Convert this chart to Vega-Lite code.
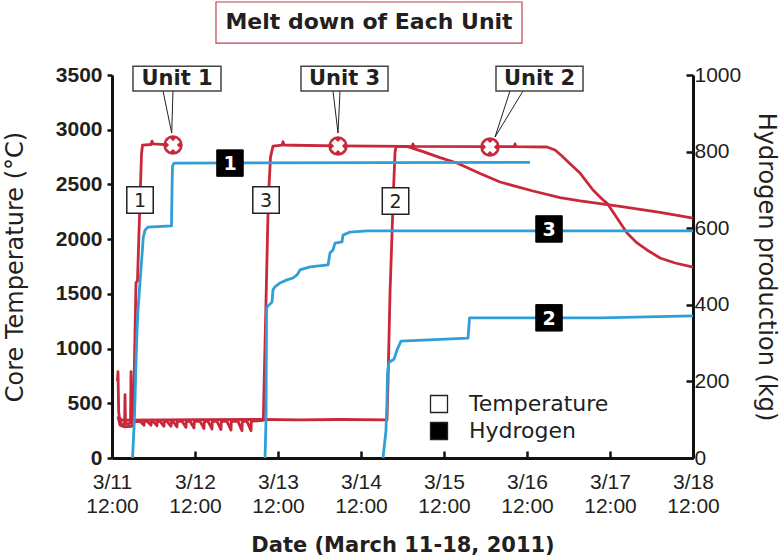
{
  "$schema": "https://vega.github.io/schema/vega-lite/v6.json",
  "width": 581,
  "height": 383,
  "autosize": {"type": "none"},
  "padding": {"left": 112, "top": 75, "right": 88, "bottom": 100},
  "background": "white",
  "config": {
    "view": {"stroke": null},
    "axis": {"grid": false, "domainColor": "#111111", "domainWidth": 3, "tickColor": "#111111", "tickWidth": 2.5, "labelColor": "#231f20", "titleColor": "#231f20"}
  },
  "datasets": {
    "temp": [
      {"series": "Unit 1", "time": "2011-03-11T13:35", "value": 700},
      {"series": "Unit 1", "time": "2011-03-11T13:44", "value": 790},
      {"series": "Unit 1", "time": "2011-03-11T13:56", "value": 420},
      {"series": "Unit 1", "time": "2011-03-11T14:19", "value": 330},
      {"series": "Unit 1", "time": "2011-03-11T15:11", "value": 295},
      {"series": "Unit 1", "time": "2011-03-11T15:38", "value": 300},
      {"series": "Unit 1", "time": "2011-03-11T15:46", "value": 580},
      {"series": "Unit 1", "time": "2011-03-11T15:54", "value": 320},
      {"series": "Unit 1", "time": "2011-03-11T16:38", "value": 310},
      {"series": "Unit 1", "time": "2011-03-11T17:21", "value": 320},
      {"series": "Unit 1", "time": "2011-03-11T17:30", "value": 790},
      {"series": "Unit 1", "time": "2011-03-11T17:40", "value": 360},
      {"series": "Unit 1", "time": "2011-03-11T18:10", "value": 350},
      {"series": "Unit 1", "time": "2011-03-11T18:56", "value": 1600},
      {"series": "Unit 1", "time": "2011-03-11T19:22", "value": 1620},
      {"series": "Unit 1", "time": "2011-03-11T20:06", "value": 2358},
      {"series": "Unit 1", "time": "2011-03-11T20:32", "value": 2780},
      {"series": "Unit 1", "time": "2011-03-11T20:49", "value": 2860},
      {"series": "Unit 1", "time": "2011-03-11T23:17", "value": 2865},
      {"series": "Unit 1", "time": "2011-03-11T23:34", "value": 2895},
      {"series": "Unit 1", "time": "2011-03-11T23:51", "value": 2870},
      {"series": "Unit 1", "time": "2011-03-12T05:38", "value": 2860},
      {"series": "Unit 3", "time": "2011-03-11T13:44", "value": 380},
      {"series": "Unit 3", "time": "2011-03-11T14:19", "value": 300},
      {"series": "Unit 3", "time": "2011-03-11T15:30", "value": 285},
      {"series": "Unit 3", "time": "2011-03-11T17:40", "value": 290},
      {"series": "Unit 3", "time": "2011-03-11T18:04", "value": 330},
      {"series": "Unit 3", "time": "2011-03-11T20:06", "value": 335},
      {"series": "Unit 3", "time": "2011-03-11T21:15", "value": 300},
      {"series": "Unit 3", "time": "2011-03-11T21:20", "value": 335},
      {"series": "Unit 3", "time": "2011-03-11T22:07", "value": 335},
      {"series": "Unit 3", "time": "2011-03-11T23:17", "value": 300},
      {"series": "Unit 3", "time": "2011-03-11T23:22", "value": 335},
      {"series": "Unit 3", "time": "2011-03-11T23:51", "value": 335},
      {"series": "Unit 3", "time": "2011-03-12T01:01", "value": 295},
      {"series": "Unit 3", "time": "2011-03-12T01:06", "value": 335},
      {"series": "Unit 3", "time": "2011-03-12T01:53", "value": 335},
      {"series": "Unit 3", "time": "2011-03-12T03:02", "value": 290},
      {"series": "Unit 3", "time": "2011-03-12T03:07", "value": 335},
      {"series": "Unit 3", "time": "2011-03-12T03:54", "value": 335},
      {"series": "Unit 3", "time": "2011-03-12T05:04", "value": 290},
      {"series": "Unit 3", "time": "2011-03-12T05:09", "value": 335},
      {"series": "Unit 3", "time": "2011-03-12T05:38", "value": 335},
      {"series": "Unit 3", "time": "2011-03-12T06:48", "value": 285},
      {"series": "Unit 3", "time": "2011-03-12T06:53", "value": 335},
      {"series": "Unit 3", "time": "2011-03-12T08:14", "value": 335},
      {"series": "Unit 3", "time": "2011-03-12T09:24", "value": 280},
      {"series": "Unit 3", "time": "2011-03-12T09:29", "value": 335},
      {"series": "Unit 3", "time": "2011-03-12T10:33", "value": 335},
      {"series": "Unit 3", "time": "2011-03-12T11:43", "value": 275},
      {"series": "Unit 3", "time": "2011-03-12T11:48", "value": 335},
      {"series": "Unit 3", "time": "2011-03-12T13:27", "value": 335},
      {"series": "Unit 3", "time": "2011-03-12T14:36", "value": 270},
      {"series": "Unit 3", "time": "2011-03-12T14:41", "value": 335},
      {"series": "Unit 3", "time": "2011-03-12T15:46", "value": 335},
      {"series": "Unit 3", "time": "2011-03-12T16:55", "value": 265},
      {"series": "Unit 3", "time": "2011-03-12T17:00", "value": 335},
      {"series": "Unit 3", "time": "2011-03-12T18:22", "value": 335},
      {"series": "Unit 3", "time": "2011-03-12T19:31", "value": 260},
      {"series": "Unit 3", "time": "2011-03-12T19:36", "value": 335},
      {"series": "Unit 3", "time": "2011-03-12T21:15", "value": 335},
      {"series": "Unit 3", "time": "2011-03-12T22:25", "value": 255},
      {"series": "Unit 3", "time": "2011-03-12T22:30", "value": 335},
      {"series": "Unit 3", "time": "2011-03-13T00:26", "value": 335},
      {"series": "Unit 3", "time": "2011-03-13T01:35", "value": 250},
      {"series": "Unit 3", "time": "2011-03-13T01:41", "value": 335},
      {"series": "Unit 3", "time": "2011-03-13T03:02", "value": 335},
      {"series": "Unit 3", "time": "2011-03-13T04:12", "value": 250},
      {"series": "Unit 3", "time": "2011-03-13T04:17", "value": 335},
      {"series": "Unit 3", "time": "2011-03-13T07:45", "value": 345},
      {"series": "Unit 3", "time": "2011-03-13T09:12", "value": 2358},
      {"series": "Unit 3", "time": "2011-03-13T09:50", "value": 2750},
      {"series": "Unit 3", "time": "2011-03-13T10:33", "value": 2850},
      {"series": "Unit 3", "time": "2011-03-13T13:10", "value": 2860},
      {"series": "Unit 3", "time": "2011-03-13T13:27", "value": 2890},
      {"series": "Unit 3", "time": "2011-03-13T13:44", "value": 2860},
      {"series": "Unit 3", "time": "2011-03-13T16:20", "value": 2858},
      {"series": "Unit 3", "time": "2011-03-14T05:21", "value": 2852},
      {"series": "Unit 3", "time": "2011-03-15T01:18", "value": 2848},
      {"series": "Unit 3", "time": "2011-03-15T05:56", "value": 2800},
      {"series": "Unit 3", "time": "2011-03-15T10:51", "value": 2745},
      {"series": "Unit 3", "time": "2011-03-15T15:46", "value": 2696},
      {"series": "Unit 3", "time": "2011-03-15T22:25", "value": 2600},
      {"series": "Unit 3", "time": "2011-03-16T04:12", "value": 2522},
      {"series": "Unit 3", "time": "2011-03-16T13:44", "value": 2440},
      {"series": "Unit 3", "time": "2011-03-16T21:33", "value": 2380},
      {"series": "Unit 3", "time": "2011-03-17T03:20", "value": 2350},
      {"series": "Unit 3", "time": "2011-03-17T14:54", "value": 2300},
      {"series": "Unit 3", "time": "2011-03-18T02:28", "value": 2245},
      {"series": "Unit 3", "time": "2011-03-18T12:00", "value": 2193},
      {"series": "Unit 2", "time": "2011-03-11T13:44", "value": 370},
      {"series": "Unit 2", "time": "2011-03-11T15:00", "value": 345},
      {"series": "Unit 2", "time": "2011-03-12T13:27", "value": 350},
      {"series": "Unit 2", "time": "2011-03-13T07:40", "value": 352},
      {"series": "Unit 2", "time": "2011-03-13T18:22", "value": 348},
      {"series": "Unit 2", "time": "2011-03-14T05:56", "value": 352},
      {"series": "Unit 2", "time": "2011-03-14T19:31", "value": 348},
      {"series": "Unit 2", "time": "2011-03-14T19:49", "value": 700},
      {"series": "Unit 2", "time": "2011-03-14T20:23", "value": 1500},
      {"series": "Unit 2", "time": "2011-03-14T20:58", "value": 2050},
      {"series": "Unit 2", "time": "2011-03-14T21:24", "value": 2450},
      {"series": "Unit 2", "time": "2011-03-14T21:50", "value": 2790},
      {"series": "Unit 2", "time": "2011-03-14T22:07", "value": 2845},
      {"series": "Unit 2", "time": "2011-03-15T02:45", "value": 2848},
      {"series": "Unit 2", "time": "2011-03-15T03:02", "value": 2870},
      {"series": "Unit 2", "time": "2011-03-15T03:20", "value": 2848},
      {"series": "Unit 2", "time": "2011-03-16T01:18", "value": 2845},
      {"series": "Unit 2", "time": "2011-03-16T08:15", "value": 2845},
      {"series": "Unit 2", "time": "2011-03-16T08:32", "value": 2870},
      {"series": "Unit 2", "time": "2011-03-16T08:49", "value": 2845},
      {"series": "Unit 2", "time": "2011-03-16T17:47", "value": 2842},
      {"series": "Unit 2", "time": "2011-03-16T20:06", "value": 2815},
      {"series": "Unit 2", "time": "2011-03-16T22:07", "value": 2760},
      {"series": "Unit 2", "time": "2011-03-17T00:26", "value": 2690},
      {"series": "Unit 2", "time": "2011-03-17T03:20", "value": 2604},
      {"series": "Unit 2", "time": "2011-03-17T07:05", "value": 2449},
      {"series": "Unit 2", "time": "2011-03-17T09:59", "value": 2358},
      {"series": "Unit 2", "time": "2011-03-17T11:08", "value": 2330},
      {"series": "Unit 2", "time": "2011-03-17T14:02", "value": 2193},
      {"series": "Unit 2", "time": "2011-03-17T16:55", "value": 2056},
      {"series": "Unit 2", "time": "2011-03-17T19:49", "value": 1965},
      {"series": "Unit 2", "time": "2011-03-17T22:42", "value": 1901},
      {"series": "Unit 2", "time": "2011-03-18T02:28", "value": 1828},
      {"series": "Unit 2", "time": "2011-03-18T06:48", "value": 1782},
      {"series": "Unit 2", "time": "2011-03-18T12:00", "value": 1745}
    ],
    "hydrogen": [
      {"series": "Unit 1", "time": "2011-03-11T17:56", "value": 0},
      {"series": "Unit 1", "time": "2011-03-11T18:22", "value": 80},
      {"series": "Unit 1", "time": "2011-03-11T18:39", "value": 151},
      {"series": "Unit 1", "time": "2011-03-11T18:56", "value": 250},
      {"series": "Unit 1", "time": "2011-03-11T19:14", "value": 330},
      {"series": "Unit 1", "time": "2011-03-11T19:31", "value": 386},
      {"series": "Unit 1", "time": "2011-03-11T20:06", "value": 460},
      {"series": "Unit 1", "time": "2011-03-11T20:35", "value": 517},
      {"series": "Unit 1", "time": "2011-03-11T21:03", "value": 577},
      {"series": "Unit 1", "time": "2011-03-11T21:33", "value": 595},
      {"series": "Unit 1", "time": "2011-03-11T22:25", "value": 603},
      {"series": "Unit 1", "time": "2011-03-12T05:12", "value": 606},
      {"series": "Unit 1", "time": "2011-03-12T05:21", "value": 700},
      {"series": "Unit 1", "time": "2011-03-12T05:30", "value": 762},
      {"series": "Unit 1", "time": "2011-03-12T05:56", "value": 770},
      {"series": "Unit 1", "time": "2011-03-16T12:52", "value": 772},
      {"series": "Unit 3", "time": "2011-03-13T08:15", "value": 0},
      {"series": "Unit 3", "time": "2011-03-13T08:32", "value": 100},
      {"series": "Unit 3", "time": "2011-03-13T08:41", "value": 386},
      {"series": "Unit 3", "time": "2011-03-13T08:49", "value": 394},
      {"series": "Unit 3", "time": "2011-03-13T10:16", "value": 407},
      {"series": "Unit 3", "time": "2011-03-13T10:33", "value": 439},
      {"series": "Unit 3", "time": "2011-03-13T11:08", "value": 447},
      {"series": "Unit 3", "time": "2011-03-13T12:35", "value": 457},
      {"series": "Unit 3", "time": "2011-03-13T14:36", "value": 465},
      {"series": "Unit 3", "time": "2011-03-13T16:20", "value": 470},
      {"series": "Unit 3", "time": "2011-03-13T17:30", "value": 478},
      {"series": "Unit 3", "time": "2011-03-13T18:22", "value": 491},
      {"series": "Unit 3", "time": "2011-03-13T21:15", "value": 499},
      {"series": "Unit 3", "time": "2011-03-14T02:28", "value": 504},
      {"series": "Unit 3", "time": "2011-03-14T03:02", "value": 535},
      {"series": "Unit 3", "time": "2011-03-14T03:54", "value": 543},
      {"series": "Unit 3", "time": "2011-03-14T04:29", "value": 561},
      {"series": "Unit 3", "time": "2011-03-14T06:30", "value": 564},
      {"series": "Unit 3", "time": "2011-03-14T06:48", "value": 582},
      {"series": "Unit 3", "time": "2011-03-14T08:49", "value": 590},
      {"series": "Unit 3", "time": "2011-03-14T13:44", "value": 593},
      {"series": "Unit 3", "time": "2011-03-18T12:00", "value": 593},
      {"series": "Unit 2", "time": "2011-03-14T18:22", "value": 0},
      {"series": "Unit 2", "time": "2011-03-14T19:14", "value": 73},
      {"series": "Unit 2", "time": "2011-03-14T19:31", "value": 151},
      {"series": "Unit 2", "time": "2011-03-14T19:40", "value": 222},
      {"series": "Unit 2", "time": "2011-03-14T20:06", "value": 250},
      {"series": "Unit 2", "time": "2011-03-14T21:33", "value": 258},
      {"series": "Unit 2", "time": "2011-03-14T22:25", "value": 282},
      {"series": "Unit 2", "time": "2011-03-14T23:34", "value": 305},
      {"series": "Unit 2", "time": "2011-03-15T18:57", "value": 313},
      {"series": "Unit 2", "time": "2011-03-15T19:23", "value": 366},
      {"series": "Unit 2", "time": "2011-03-17T09:07", "value": 366},
      {"series": "Unit 2", "time": "2011-03-18T12:00", "value": 371}
    ],
    "titlebox": [
      {"label": "Melt down of Each Unit", "time": "2011-03-12T18:04", "time2": "2011-03-16T10:33", "value": 4167, "value2": 3792, "tx": "2011-03-14T14:19", "ty": 3984}
    ],
    "callouts": [
      {"unit": "Unit 1", "time": "2011-03-11T18:04", "time2": "2011-03-12T19:31", "value": 3580, "value2": 3354, "tx": "2011-03-12T06:48", "ty": 3467},
      {"unit": "Unit 3", "time": "2011-03-13T18:39", "time2": "2011-03-14T19:49", "value": 3580, "value2": 3354, "tx": "2011-03-14T07:14", "ty": 3467},
      {"unit": "Unit 2", "time": "2011-03-16T03:02", "time2": "2011-03-17T04:12", "value": 3580, "value2": 3354, "tx": "2011-03-16T15:37", "ty": 3467}
    ],
    "pointers": [
      {"unit": "Unit 1", "ord": 1, "time": "2011-03-12T02:45", "value": 3354},
      {"unit": "Unit 1", "ord": 2, "time": "2011-03-12T05:16", "value": 2970},
      {"unit": "Unit 1", "ord": 3, "time": "2011-03-12T05:38", "value": 3354},
      {"unit": "Unit 3", "ord": 1, "time": "2011-03-14T03:54", "value": 3354},
      {"unit": "Unit 3", "ord": 2, "time": "2011-03-14T05:21", "value": 2970},
      {"unit": "Unit 3", "ord": 3, "time": "2011-03-14T05:56", "value": 3354},
      {"unit": "Unit 2", "ord": 1, "time": "2011-03-16T07:05", "value": 3354},
      {"unit": "Unit 2", "ord": 2, "time": "2011-03-16T02:45", "value": 2933},
      {"unit": "Unit 2", "ord": 3, "time": "2011-03-16T10:51", "value": 3354}
    ],
    "markers": [
      {"unit": "Unit 1", "time": "2011-03-12T05:38", "value": 2860},
      {"unit": "Unit 3", "time": "2011-03-14T05:21", "value": 2851},
      {"unit": "Unit 2", "time": "2011-03-16T01:18", "value": 2842}
    ],
    "tboxes": [
      {"label": "1", "kind": "Temperature", "time": "2011-03-11T20:06", "value": 2358},
      {"label": "3", "kind": "Temperature", "time": "2011-03-13T08:32", "value": 2358},
      {"label": "2", "kind": "Temperature", "time": "2011-03-14T21:59", "value": 2348}
    ],
    "hboxes": [
      {"label": "1", "kind": "Hydrogen", "time": "2011-03-12T22:07", "value": 770},
      {"label": "3", "kind": "Hydrogen", "time": "2011-03-16T18:22", "value": 598},
      {"label": "2", "kind": "Hydrogen", "time": "2011-03-16T18:22", "value": 366}
    ]
  },
  "layer": [
    {
      "layer": [
        {
          "data": {"name": "temp"},
          "mark": {"type": "line", "color": "#c8283a", "strokeWidth": 2.8, "strokeJoin": "round"},
          "encoding": {
            "x": {
              "field": "time", "type": "temporal", "title": "Date (March 11-18, 2011)",
              "scale": {"domain": [{"year": 2011, "month": 3, "date": 11, "hours": 12}, {"year": 2011, "month": 3, "date": 18, "hours": 12}]},
              "axis": {
                "values": [
                  {"year": 2011, "month": 3, "date": 11, "hours": 12},
                  {"year": 2011, "month": 3, "date": 12, "hours": 12},
                  {"year": 2011, "month": 3, "date": 13, "hours": 12},
                  {"year": 2011, "month": 3, "date": 14, "hours": 12},
                  {"year": 2011, "month": 3, "date": 15, "hours": 12},
                  {"year": 2011, "month": 3, "date": 16, "hours": 12},
                  {"year": 2011, "month": 3, "date": 17, "hours": 12},
                  {"year": 2011, "month": 3, "date": 18, "hours": 12}
                ],
                "labelExpr": "[timeFormat(datum.value, '%-m/%-d'), timeFormat(datum.value, '%H:%M')]",
                "labelFlush": false, "labelOverlap": false,
                "tickSize": -7, "labelPadding": 20,
                "labelFont": "Liberation Sans", "labelFontSize": 21, "labelLineHeight": 24,
                "titleFont": "DejaVu Sans", "titleFontSize": 21, "titleFontWeight": "bold", "titlePadding": 18
              }
            },
            "y": {
              "field": "value", "type": "quantitative", "title": "Core Temperature (°C)",
              "scale": {"domain": [0, 3500], "nice": false, "zero": false},
              "axis": {
                "values": [0, 500, 1000, 1500, 2000, 2500, 3000, 3500],
                "format": "d",
                "tickSize": 5, "labelPadding": 5,
                "labelFont": "Liberation Sans", "labelFontSize": 21, "labelFontWeight": "bold",
                "titleFont": "DejaVu Sans", "titleFontSize": 24, "titleFontWeight": "normal", "titlePadding": 28
              }
            },
            "detail": {"field": "series", "type": "nominal"}
          }
        },
        {
          "data": {"name": "titlebox"},
          "mark": {"type": "rect", "fill": "white", "stroke": "#c0404e", "strokeWidth": 1.2},
          "encoding": {
            "x": {"field": "time", "type": "temporal", "title": "Date (March 11-18, 2011)"},
            "x2": {"field": "time2"},
            "y": {"field": "value", "type": "quantitative", "title": "Core Temperature (°C)"},
            "y2": {"field": "value2"}
          }
        },
        {
          "data": {"name": "titlebox"},
          "mark": {"type": "text", "font": "DejaVu Sans", "fontSize": 22, "fontWeight": "bold", "color": "#231f20", "baseline": "middle", "align": "center"},
          "encoding": {
            "x": {"field": "tx", "type": "temporal", "title": "Date (March 11-18, 2011)"},
            "y": {"field": "ty", "type": "quantitative", "title": "Core Temperature (°C)"},
            "text": {"field": "label"}
          }
        },
        {
          "data": {"name": "pointers"},
          "mark": {"type": "line", "color": "#222222", "strokeWidth": 1},
          "encoding": {
            "x": {"field": "time", "type": "temporal", "title": "Date (March 11-18, 2011)"},
            "y": {"field": "value", "type": "quantitative", "title": "Core Temperature (°C)"},
            "detail": {"field": "unit", "type": "nominal"},
            "order": {"field": "ord", "type": "quantitative"}
          }
        },
        {
          "data": {"name": "callouts"},
          "mark": {"type": "rect", "fill": "white", "stroke": "#444444", "strokeWidth": 1.5},
          "encoding": {
            "x": {"field": "time", "type": "temporal", "title": "Date (March 11-18, 2011)"},
            "x2": {"field": "time2"},
            "y": {"field": "value", "type": "quantitative", "title": "Core Temperature (°C)"},
            "y2": {"field": "value2"}
          }
        },
        {
          "data": {"name": "callouts"},
          "mark": {"type": "text", "font": "DejaVu Sans", "fontSize": 21, "fontWeight": "bold", "color": "#231f20", "baseline": "middle", "align": "center"},
          "encoding": {
            "x": {"field": "tx", "type": "temporal", "title": "Date (March 11-18, 2011)"},
            "y": {"field": "ty", "type": "quantitative", "title": "Core Temperature (°C)"},
            "text": {"field": "unit"}
          }
        },
        {
          "data": {"name": "markers"},
          "mark": {"type": "point", "shape": "circle", "filled": true, "size": 380, "color": "#c8283a", "opacity": 1},
          "encoding": {
            "x": {"field": "time", "type": "temporal", "title": "Date (March 11-18, 2011)"},
            "y": {"field": "value", "type": "quantitative", "title": "Core Temperature (°C)"}
          }
        },
        {
          "data": {"name": "markers"},
          "mark": {"type": "point", "shape": "cross", "angle": 45, "filled": true, "size": 190, "color": "white", "opacity": 1},
          "encoding": {
            "x": {"field": "time", "type": "temporal", "title": "Date (March 11-18, 2011)"},
            "y": {"field": "value", "type": "quantitative", "title": "Core Temperature (°C)"}
          }
        },
        {
          "data": {"name": "tboxes"},
          "mark": {"type": "square", "size": 700, "filled": true, "stroke": "#222222", "strokeWidth": 1.5, "opacity": 1},
          "encoding": {
            "x": {"field": "time", "type": "temporal", "title": "Date (March 11-18, 2011)"},
            "y": {"field": "value", "type": "quantitative", "title": "Core Temperature (°C)"},
            "fill": {
              "field": "kind", "type": "nominal",
              "scale": {"domain": ["Temperature", "Hydrogen"], "range": ["#ffffff", "#000000"]},
              "legend": {"orient": "none", "legendX": 316, "legendY": 318, "title": null, "symbolType": "square", "symbolSize": 289, "symbolStrokeColor": "#222222", "symbolStrokeWidth": 1.3, "labelFont": "DejaVu Sans", "labelFontSize": 22, "labelColor": "#231f20", "labelOffset": 19, "rowPadding": 3, "padding": 0}
            }
          }
        },
        {
          "data": {"name": "tboxes"},
          "mark": {"type": "text", "font": "DejaVu Sans", "fontSize": 19, "color": "#231f20", "baseline": "middle", "align": "center", "dy": 1},
          "encoding": {
            "x": {"field": "time", "type": "temporal", "title": "Date (March 11-18, 2011)"},
            "y": {"field": "value", "type": "quantitative", "title": "Core Temperature (°C)"},
            "text": {"field": "label"}
          }
        }
      ]
    },
    {
      "layer": [
        {
          "data": {"name": "hydrogen"},
          "mark": {"type": "line", "color": "#2f9fd8", "strokeWidth": 2.8, "strokeJoin": "round"},
          "encoding": {
            "x": {"field": "time", "type": "temporal", "title": "Date (March 11-18, 2011)"},
            "y": {
              "field": "value", "type": "quantitative", "title": "Hydrogen production (kg)",
              "scale": {"domain": [0, 1000], "nice": false, "zero": false},
              "axis": {
                "orient": "right",
                "values": [0, 200, 400, 600, 800, 1000],
                "format": "d",
                "tickSize": -7, "labelPadding": 8,
                "labelFont": "Liberation Sans", "labelFontSize": 21,
                "titleFont": "DejaVu Sans", "titleFontSize": 24, "titleFontWeight": "normal", "titlePadding": 13
              }
            },
            "detail": {"field": "series", "type": "nominal"}
          }
        },
        {
          "data": {"name": "hboxes"},
          "mark": {"type": "square", "size": 700, "filled": true, "stroke": "#000000", "strokeWidth": 1, "opacity": 1},
          "encoding": {
            "x": {"field": "time", "type": "temporal", "title": "Date (March 11-18, 2011)"},
            "y": {"field": "value", "type": "quantitative", "title": "Hydrogen production (kg)"},
            "fill": {
              "field": "kind", "type": "nominal",
              "scale": {"domain": ["Temperature", "Hydrogen"], "range": ["#ffffff", "#000000"]},
              "legend": {"orient": "none", "legendX": 316, "legendY": 318, "title": null, "symbolType": "square", "symbolSize": 289, "symbolStrokeColor": "#222222", "symbolStrokeWidth": 1.3, "labelFont": "DejaVu Sans", "labelFontSize": 22, "labelColor": "#231f20", "labelOffset": 19, "rowPadding": 3, "padding": 0}
            }
          }
        },
        {
          "data": {"name": "hboxes"},
          "mark": {"type": "text", "font": "DejaVu Sans", "fontSize": 19, "fontWeight": "bold", "color": "white", "baseline": "middle", "align": "center", "dy": 1},
          "encoding": {
            "x": {"field": "time", "type": "temporal", "title": "Date (March 11-18, 2011)"},
            "y": {"field": "value", "type": "quantitative", "title": "Hydrogen production (kg)"},
            "text": {"field": "label"}
          }
        }
      ]
    }
  ],
  "resolve": {"scale": {"y": "independent"}}
}
